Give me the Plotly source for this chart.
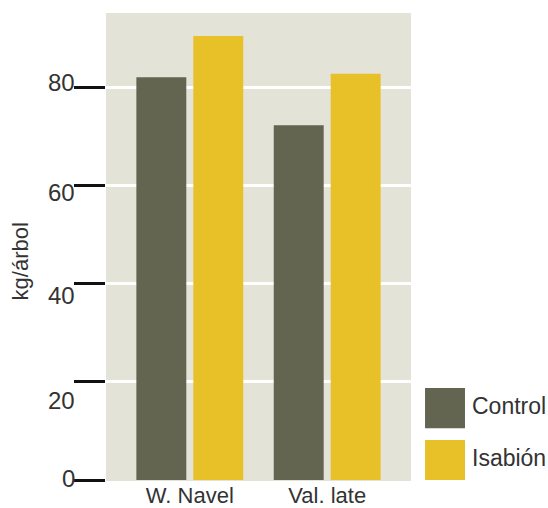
import plotly.graph_objects as go

categories = ["W. Navel", "Val. late"]
control = [82.2, 72.4]
isabion = [90.6, 82.9]
tick_vals = [0, 20, 40, 60, 80]
tick_text = ["0", "20", "40", "60", "80"]
# screen offsets of tick labels (px, up positive), as drawn in the original
tick_label_shift = [1.5, -18.7, -12, -6.5, 5.5]

BG = "#E3E3D7"
C_CONTROL = "#646551"
C_ISABION = "#E8C027"
TXT = "#333333"
FONT = "Liberation Sans, Arial, sans-serif"

fig = go.Figure()
fig.add_trace(go.Bar(x=[0, 1], y=control, name="Control", marker_color=C_CONTROL,
                     marker_line_width=0, showlegend=False))
fig.add_trace(go.Bar(x=[0, 1], y=isabion, name="Isabión", marker_color=C_ISABION,
                     marker_line_width=0, showlegend=False))

fig.update_layout(
    width=548, height=508,
    margin=dict(l=106, r=137, t=13, b=28),
    paper_bgcolor="white", plot_bgcolor=BG,
    barmode="group", bargap=0.171, bargroupgap=0.123,
    font=dict(family=FONT, color=TXT, size=22),
    showlegend=False,
)
fig.update_xaxes(
    range=[-0.61, 1.61], tickmode="array", tickvals=[0, 1], ticktext=categories,
    showgrid=False, zeroline=False, ticks="", showline=False, automargin=False,
    tickfont=dict(size=22, color=TXT),
)
fig.update_yaxes(
    range=[0, 95.3], tickmode="array", tickvals=tick_vals, automargin=False,
    showticklabels=False, ticks="outside", ticklen=31, tickwidth=3, tickcolor="#111111",
    showgrid=True, gridcolor="white", gridwidth=3,
    zeroline=True, zerolinecolor=BG, zerolinewidth=1, showline=False,
)

for v, t, s in zip(tick_vals, tick_text, tick_label_shift):
    fig.add_annotation(x=0, xref="paper", y=v, yref="y", text=t, showarrow=False,
                       xanchor="right", yanchor="middle", xshift=-29, yshift=s,
                       font=dict(size=24, color=TXT, family=FONT))

fig.add_annotation(x=-0.282, xref="paper", y=0.468, yref="paper", text="kg/árbol",
                   textangle=-90, showarrow=False, xanchor="center", yanchor="middle",
                   font=dict(size=22, color=TXT, family=FONT))

legend_items = [("Control", C_CONTROL, 0.111, 0.197, 0.159),
                ("Isabión", C_ISABION, 0.0, 0.0857, 0.047)]
for name, col, y0, y1, ty in legend_items:
    fig.add_shape(type="rect", xref="paper", yref="paper", x0=1.046, x1=1.177,
                  y0=y0, y1=y1, fillcolor=col, line_width=0)
    fig.add_annotation(x=1.192, xref="paper", y=ty, yref="paper", text=name,
                       showarrow=False, xanchor="left", yanchor="middle",
                       font=dict(size=23, color=TXT, family=FONT))

fig.write_html("out.html")
